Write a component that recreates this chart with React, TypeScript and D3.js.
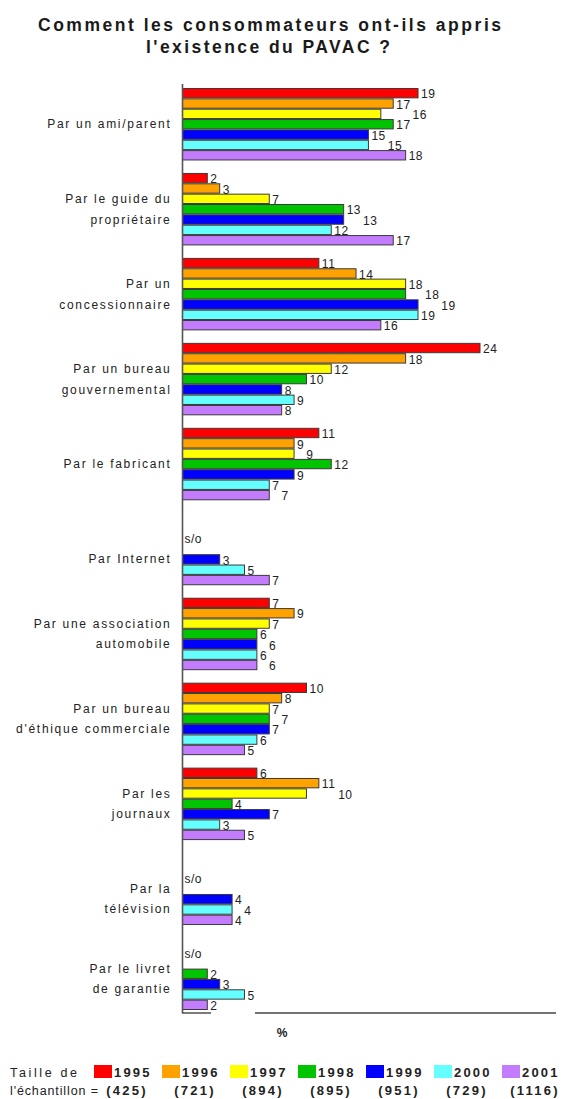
import React from "react";
import * as d3 from "d3";

const titleLines = ["Comment les consommateurs ont-ils appris", "l'existence du PAVAC ?"];

const categories = [
  "ami", "guide", "concess", "gouv", "fabricant", "internet",
  "association", "ethique", "journaux", "tv", "livret",
];
const categoryLines = [
  ["Par un ami/parent"],
  ["Par le guide du", "propriétaire"],
  ["Par un", "concessionnaire"],
  ["Par un bureau", "gouvernemental"],
  ["Par le fabricant"],
  ["Par Internet"],
  ["Par une association", "automobile"],
  ["Par un bureau", "d'éthique commerciale"],
  ["Par les", "journaux"],
  ["Par la", "télévision"],
  ["Par le livret", "de garantie"],
];

const years = ["1995", "1996", "1997", "1998", "1999", "2000", "2001"];
const sampleSizes = ["(425)", "(721)", "(894)", "(895)", "(951)", "(729)", "(1116)"];
const yearColors = ["#ff0000", "#ffa200", "#ffff00", "#00c400", "#0000ff", "#66ffff", "#c47cff"];

const v1995 = [19, 2, 11, 24, 11, null, 7, 10, 6, null, null];
const v1996 = [17, 3, 14, 18, 9, null, 9, 8, 11, null, null];
const v1997 = [16, 7, 18, 12, 9, null, 7, 7, 10, null, null];
const v1998 = [17, 13, 18, 10, 12, null, 6, 7, 4, null, 2];
const v1999 = [15, 13, 19, 8, 9, 3, 6, 7, 7, 4, 3];
const v2000 = [15, 12, 19, 9, 7, 5, 6, 6, 3, 4, 5];
const v2001 = [18, 17, 16, 8, 7, 7, 6, 5, 5, 4, 2];
const series = [v1995, v1996, v1997, v1998, v1999, v2000, v2001];

const missingLabel = "s/o";
const axisUnit = "%";
const legendLine1 = "Taille de";
const legendLine2 = "l'échantillon =";

const W = 563;
const H = 1099;
const FONT = "'Liberation Sans', Arial, Helvetica, sans-serif";
const LABEL_FS = 12;

function labelWidth(v: number) {
  return String(v).length * (LABEL_FS * 0.556 + 0.5);
}

export default function App() {
  const x = d3.scaleLinear().domain([0, 24]).range([182.5, 480]);
  const y = d3.scaleBand<string>().domain(categories).range([88, 1010]).paddingInner(0.147).paddingOuter(0);
  const ySub = d3.scaleBand<string>().domain(years).range([0, y.bandwidth()]);
  const subH = ySub.bandwidth();

  const legendX = (i: number) => 94 + i * 68;

  return (
    <svg
      width={W}
      height={H}
      style={{ position: "absolute", left: 0, top: 0, background: "#fff" }}
      fontFamily={FONT}
    >
      <rect x={0} y={0} width={W} height={H} fill="#fff" />
      {/* Title */}
      <text x={38} y={31} fontSize={17.5} fontWeight="bold" fill="#1a1a1a" textLength={463} lengthAdjust="spacing">
        {titleLines[0]}
      </text>
      <text x={146} y={53} fontSize={17.5} fontWeight="bold" fill="#1a1a1a" textLength={244} lengthAdjust="spacing">
        {titleLines[1]}
      </text>

      {/* Bars */}
      {categories.map((c, ci) => {
        const top = y(c)!;
        const bottom = top + y.bandwidth();
        const firstPresent = series.findIndex((s) => s[ci] !== null);
        const hasMissing = firstPresent > 0;
        const soCenter = hasMissing ? top + ySub(years[firstPresent])! - 15 : 0;
        const labelCenter = hasMissing ? (soCenter - 6 + bottom) / 2 : (top + bottom) / 2;
        const lines = categoryLines[ci];
        const lh = 20.5;

        // value label placement with simple collision avoidance against previous label
        let prev: { x: number; w: number } | null = null;
        const labelXs: (number | null)[] = series.map((s) => {
          const v = s[ci];
          if (v === null) {
            prev = null;
            return null;
          }
          const w = labelWidth(v);
          let lx = x(v) + 3;
          if (prev && lx < prev.x + prev.w + 1 && lx + w > prev.x - 1) {
            lx = prev.x + prev.w + 2;
          }
          prev = { x: lx, w };
          return lx;
        });

        return (
          <g key={c}>
            {series.map((s, si) => {
              const v = s[ci];
              if (v === null) return null;
              const by = top + ySub(years[si])!;
              return (
                <g key={si}>
                  <rect
                    x={x(0)}
                    y={by + 0.5}
                    width={x(v) - x(0)}
                    height={subH - 1}
                    fill={yearColors[si]}
                    stroke="#3a3a3a"
                    strokeWidth={1}
                  />
                  <text
                    x={labelXs[si]!}
                    y={by + subH / 2 + 1}
                    dy="0.35em"
                    fontSize={LABEL_FS}
                    letterSpacing={0.5}
                    fill="#222"
                  >
                    {v}
                  </text>
                </g>
              );
            })}
            {hasMissing && (
              <text x={x(0) + 2} y={soCenter} dy="0.35em" fontSize={12} letterSpacing={0.5} fill="#222">
                {missingLabel}
              </text>
            )}
            {lines.map((ln, li) => (
              <text
                key={li}
                x={171.5}
                y={labelCenter + (li - (lines.length - 1) / 2) * lh}
                dy="0.35em"
                textAnchor="end"
                fontSize={12}
                letterSpacing={1.7}
                fill="#222"
              >
                {ln}
              </text>
            ))}
          </g>
        );
      })}

      {/* Axes */}
      <line x1={x(0)} x2={x(0)} y1={84} y2={1013.5} stroke="#555" strokeWidth={1.6} />
      <line x1={x(0)} x2={211} y1={1013} y2={1013} stroke="#444" strokeWidth={1.4} />
      <line x1={255} x2={556} y1={1013} y2={1013} stroke="#444" strokeWidth={1.4} />
      <text x={282} y={1033} dy="0.35em" textAnchor="middle" fontSize={12} fontWeight="bold" fill="#222">
        {axisUnit}
      </text>

      {/* Legend */}
      <text x={10} y={1077} fontSize={12.5} fill="#222" textLength={67} lengthAdjust="spacing">
        {legendLine1}
      </text>
      <text x={10} y={1095} fontSize={12.5} fill="#222" textLength={88} lengthAdjust="spacing">
        {legendLine2}
      </text>
      {years.map((yr, i) => (
        <g key={yr}>
          <rect x={legendX(i)} y={1065} width={18} height={13} fill={yearColors[i]} />
          <text x={legendX(i) + 20} y={1077} fontSize={13} fontWeight="bold" letterSpacing={2.2} fill="#222">
            {yr}
          </text>
          <text
            x={legendX(i) + 33}
            y={1095}
            textAnchor="middle"
            fontSize={13}
            fontWeight="bold"
            letterSpacing={2.2}
            fill="#222"
          >
            {sampleSizes[i]}
          </text>
        </g>
      ))}
    </svg>
  );
}
